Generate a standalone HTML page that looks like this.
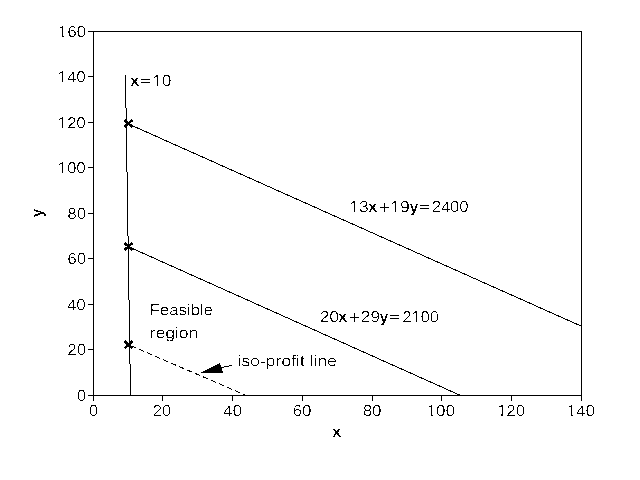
<!DOCTYPE html>
<html lang="en"><head><meta charset="utf-8"><title>Feasible region plot</title>
<style>
html,body{margin:0;padding:0;background:#fff;width:640px;height:480px;overflow:hidden}
svg{display:block}
text{font-family:"Liberation Sans",sans-serif;font-size:16px;fill:#000}
.b{font-weight:bold}
.ln{stroke:#000;stroke-width:1;fill:none;shape-rendering:crispEdges}
.bx{fill:#000;shape-rendering:crispEdges}
</style></head><body>
<svg width="640" height="480" viewBox="0 0 640 480">
<defs><filter id="th" filterUnits="userSpaceOnUse" x="0" y="0" width="640" height="480" color-interpolation-filters="sRGB"><feColorMatrix in="SourceGraphic" type="matrix" values="0 0 0 0 0  0 0 0 0 0  0 0 0 0 0  -1 0 0 0 1"/><feComponentTransfer><feFuncA type="discrete" tableValues="0 0 0 0 0 0 0 0 0 0 0 1 1 1 1 1 1 1 1 1"/></feComponentTransfer></filter></defs>
<rect x="0" y="0" width="640" height="480" fill="#fff"/>
<g filter="url(#th)">
<rect width="640" height="480" fill="#fff"/>
<g>
<text transform="matrix(1.0500 0.001 0 1 88.69 416.10)">0</text>
<text transform="matrix(1.0500 0.001 0 1 152.52 416.10)">20</text>
<text transform="matrix(1.0500 0.001 0 1 223.05 416.10)"><tspan dy="0.40">4</tspan><tspan dy="-0.40">0</tspan></text>
<text transform="matrix(1.0500 0.001 0 1 292.62 416.10)">60</text>
<text transform="matrix(1.0500 0.001 0 1 362.68 416.10)">80</text>
<text transform="matrix(1.0500 0.001 0 1 426.73 416.10)">100</text>
<text transform="matrix(1.0500 0.001 0 1 496.93 416.10)">120</text>
<text transform="matrix(1.0500 0.001 0 1 566.73 416.10)">1<tspan dy="0.40">4</tspan><tspan dy="-0.40">0</tspan></text>
<text transform="matrix(1.0500 0.001 0 1 76.67 401.10)">0</text>
<text transform="matrix(1.0500 0.001 0 1 67.33 355.10)">20</text>
<text transform="matrix(1.0500 0.001 0 1 66.93 310.10)"><tspan dy="0.40">4</tspan><tspan dy="-0.40">0</tspan></text>
<text transform="matrix(1.0500 0.001 0 1 67.33 264.10)">60</text>
<text transform="matrix(1.0500 0.001 0 1 67.33 219.10)">80</text>
<text transform="matrix(1.0500 0.001 0 1 57.59 173.20)">100</text>
<text transform="matrix(1.0500 0.001 0 1 57.59 128.20)">120</text>
<text transform="matrix(1.0500 0.001 0 1 57.59 82.20)">1<tspan dy="0.40">4</tspan><tspan dy="-0.40">0</tspan></text>
<text transform="matrix(1.0500 0.001 0 1 57.79 37.10)">160</text>
<text class="b" transform="matrix(1.0378 0.001 0 1 332.07 437.10)">x</text>
<text class="b" transform="matrix(1.0378 0.001 0 1 130.07 86.10)">x</text><text style="font-size:12px" transform="matrix(1.5437 0.001 0 1 139.96 85.05)">=</text><text transform="matrix(1.0782 0.001 0 1 152.25 86.10)">10</text>
<text transform="matrix(1.0835 0.001 0 1 349.34 212.10)">13</text><text class="b" transform="matrix(1.0378 0.001 0 1 368.07 212.10)">x</text><text style="font-size:18.8px" transform="matrix(1.0072 0.001 0 1 378.84 213.85)">+</text><text transform="matrix(1.0872 0.001 0 1 390.33 212.10)">19</text><text class="b" transform="matrix(0.9669 0.001 0 1 409.60 212.20)">y</text><text style="font-size:12px" transform="matrix(1.5437 0.001 0 1 418.96 211.05)">=</text><text transform="matrix(1.0303 0.001 0 1 431.73 212.00)">2<tspan dy="0.40">4</tspan><tspan dy="-0.40">0</tspan>0</text>
<text transform="matrix(1.0753 0.001 0 1 319.69 322.10)">20</text><text class="b" transform="matrix(1.0378 0.001 0 1 338.07 322.10)">x</text><text style="font-size:18.8px" transform="matrix(1.0072 0.001 0 1 348.84 323.85)">+</text><text transform="matrix(1.0841 0.001 0 1 360.49 322.10)">29</text><text class="b" transform="matrix(0.9669 0.001 0 1 379.60 322.20)">y</text><text style="font-size:12px" transform="matrix(1.5437 0.001 0 1 388.96 321.05)">=</text><text transform="matrix(1.0303 0.001 0 1 402.13 322.20)">2100</text>
<text transform="matrix(1.0453 0.001 0 1 149.59 315.20)">Feasible</text>
<text transform="matrix(1.0926 0.001 0 1 149.60 338.20)">region</text>
<text transform="matrix(1.0976 0.001 0 1 237.29 366.20)">iso-profit line</text>
<text class="b" transform="translate(43.2,213) rotate(-90) scale(0.92,1)" text-anchor="middle">y</text>
</g>
<g style="mix-blend-mode:lighten">
<rect width="640" height="480" fill="#fff"/>
<text transform="matrix(1.0500 0.001 0 1 88.97 416.10)">0</text>
<text transform="matrix(1.0500 0.001 0 1 152.80 416.10)">20</text>
<text transform="matrix(1.0500 0.001 0 1 223.33 416.10)"><tspan dy="0.40">4</tspan><tspan dy="-0.40">0</tspan></text>
<text transform="matrix(1.0500 0.001 0 1 292.90 416.10)">60</text>
<text transform="matrix(1.0500 0.001 0 1 362.96 416.10)">80</text>
<text transform="matrix(1.0500 0.001 0 1 427.01 416.10)">100</text>
<text transform="matrix(1.0500 0.001 0 1 497.21 416.10)">120</text>
<text transform="matrix(1.0500 0.001 0 1 567.01 416.10)">1<tspan dy="0.40">4</tspan><tspan dy="-0.40">0</tspan></text>
<text transform="matrix(1.0500 0.001 0 1 76.95 401.10)">0</text>
<text transform="matrix(1.0500 0.001 0 1 67.61 355.10)">20</text>
<text transform="matrix(1.0500 0.001 0 1 67.21 310.10)"><tspan dy="0.40">4</tspan><tspan dy="-0.40">0</tspan></text>
<text transform="matrix(1.0500 0.001 0 1 67.61 264.10)">60</text>
<text transform="matrix(1.0500 0.001 0 1 67.61 219.10)">80</text>
<text transform="matrix(1.0500 0.001 0 1 57.87 173.20)">100</text>
<text transform="matrix(1.0500 0.001 0 1 57.87 128.20)">120</text>
<text transform="matrix(1.0500 0.001 0 1 57.87 82.20)">1<tspan dy="0.40">4</tspan><tspan dy="-0.40">0</tspan></text>
<text transform="matrix(1.0500 0.001 0 1 58.07 37.10)">160</text>
<text class="b" transform="matrix(1.0378 0.001 0 1 332.31 437.10)">x</text>
<text class="b" transform="matrix(1.0378 0.001 0 1 130.31 86.10)">x</text><text style="font-size:12px" transform="matrix(1.5437 0.001 0 1 140.24 85.05)">=</text><text transform="matrix(1.0782 0.001 0 1 152.53 86.10)">10</text>
<text transform="matrix(1.0835 0.001 0 1 349.62 212.10)">13</text><text class="b" transform="matrix(1.0378 0.001 0 1 368.31 212.10)">x</text><text style="font-size:18.8px" transform="matrix(1.0072 0.001 0 1 379.12 213.85)">+</text><text transform="matrix(1.0872 0.001 0 1 390.61 212.10)">19</text><text class="b" transform="matrix(0.9669 0.001 0 1 409.76 212.20)">y</text><text style="font-size:12px" transform="matrix(1.5437 0.001 0 1 419.24 211.05)">=</text><text transform="matrix(1.0303 0.001 0 1 432.01 212.00)">2<tspan dy="0.40">4</tspan><tspan dy="-0.40">0</tspan>0</text>
<text transform="matrix(1.0753 0.001 0 1 319.97 322.10)">20</text><text class="b" transform="matrix(1.0378 0.001 0 1 338.31 322.10)">x</text><text style="font-size:18.8px" transform="matrix(1.0072 0.001 0 1 349.12 323.85)">+</text><text transform="matrix(1.0841 0.001 0 1 360.77 322.10)">29</text><text class="b" transform="matrix(0.9669 0.001 0 1 379.76 322.20)">y</text><text style="font-size:12px" transform="matrix(1.5437 0.001 0 1 389.24 321.05)">=</text><text transform="matrix(1.0303 0.001 0 1 402.41 322.20)">2100</text>
<text transform="matrix(1.0453 0.001 0 1 149.87 315.20)">Feasible</text>
<text transform="matrix(1.0926 0.001 0 1 149.88 338.20)">region</text>
<text transform="matrix(1.0976 0.001 0 1 237.57 366.20)">iso-profit line</text>
<text class="b" transform="translate(43.2,213) rotate(-90) scale(0.92,1)" text-anchor="middle">y</text>
</g>
<rect x="427.61" y="414.65" width="3.49" height="2.2" fill="#fff"/>
<rect x="432.59" y="414.65" width="3.32" height="2.2" fill="#fff"/>
<rect x="497.81" y="414.65" width="3.49" height="2.2" fill="#fff"/>
<rect x="502.79" y="414.65" width="3.32" height="2.2" fill="#fff"/>
<rect x="567.61" y="414.65" width="3.49" height="2.2" fill="#fff"/>
<rect x="572.59" y="414.65" width="3.32" height="2.2" fill="#fff"/>
<rect x="58.46" y="171.75" width="3.49" height="2.2" fill="#fff"/>
<rect x="63.44" y="171.75" width="3.32" height="2.2" fill="#fff"/>
<rect x="58.46" y="126.75" width="3.49" height="2.2" fill="#fff"/>
<rect x="63.44" y="126.75" width="3.32" height="2.2" fill="#fff"/>
<rect x="58.46" y="80.75" width="3.49" height="2.2" fill="#fff"/>
<rect x="63.44" y="80.75" width="3.32" height="2.2" fill="#fff"/>
<rect x="58.66" y="35.65" width="3.49" height="2.2" fill="#fff"/>
<rect x="63.64" y="35.65" width="3.32" height="2.2" fill="#fff"/>
<rect x="153.14" y="84.65" width="3.58" height="2.2" fill="#fff"/>
<rect x="158.25" y="84.65" width="3.41" height="2.2" fill="#fff"/>
<rect x="350.24" y="210.65" width="3.60" height="2.2" fill="#fff"/>
<rect x="355.37" y="210.65" width="3.42" height="2.2" fill="#fff"/>
<rect x="391.24" y="210.65" width="3.61" height="2.2" fill="#fff"/>
<rect x="396.39" y="210.65" width="3.44" height="2.2" fill="#fff"/>
<rect x="412.16" y="320.75" width="3.42" height="2.2" fill="#fff"/>
<rect x="417.04" y="320.75" width="3.26" height="2.2" fill="#fff"/>
</g>
<rect class="bx" x="93" y="31" width="489" height="1"/>
<rect class="bx" x="93" y="395" width="489" height="1"/>
<rect class="bx" x="93" y="31" width="1" height="365"/>
<rect class="bx" x="581" y="31" width="1" height="365"/>
<rect class="bx" x="93" y="395" width="1" height="6"/>
<rect class="bx" x="162" y="395" width="1" height="6"/>
<rect class="bx" x="232" y="395" width="1" height="6"/>
<rect class="bx" x="302" y="395" width="1" height="6"/>
<rect class="bx" x="372" y="395" width="1" height="6"/>
<rect class="bx" x="441" y="395" width="1" height="6"/>
<rect class="bx" x="511" y="395" width="1" height="6"/>
<rect class="bx" x="581" y="395" width="1" height="6"/>
<rect class="bx" x="88" y="395" width="6" height="1"/>
<rect class="bx" x="88" y="349" width="6" height="1"/>
<rect class="bx" x="88" y="304" width="6" height="1"/>
<rect class="bx" x="88" y="258" width="6" height="1"/>
<rect class="bx" x="88" y="213" width="6" height="1"/>
<rect class="bx" x="88" y="167" width="6" height="1"/>
<rect class="bx" x="88" y="122" width="6" height="1"/>
<rect class="bx" x="88" y="76" width="6" height="1"/>
<rect class="bx" x="88" y="31" width="6" height="1"/>
<line class="ln" x1="125.5" y1="75" x2="130.5" y2="395"/>
<line class="ln" x1="127.86" y1="123.70" x2="581" y2="326.05"/>
<line class="ln" x1="127.86" y1="246.45" x2="459.50" y2="395"/>
<line class="ln" x1="127.86" y1="344.5" x2="245.3" y2="395" stroke-dasharray="5.45 3.3" stroke-dashoffset="5.6"/>
<line x1="124.7" y1="119.9" x2="132.3" y2="127.1" stroke="#000" stroke-width="2.7" shape-rendering="crispEdges"/>
<line x1="124.7" y1="127.1" x2="132.3" y2="119.9" stroke="#000" stroke-width="2.7" shape-rendering="crispEdges"/>
<line x1="124.7" y1="242.9" x2="132.3" y2="250.1" stroke="#000" stroke-width="2.7" shape-rendering="crispEdges"/>
<line x1="124.7" y1="250.1" x2="132.3" y2="242.9" stroke="#000" stroke-width="2.7" shape-rendering="crispEdges"/>
<line x1="124.7" y1="341.1" x2="132.3" y2="348.3" stroke="#000" stroke-width="2.7" shape-rendering="crispEdges"/>
<line x1="124.7" y1="348.3" x2="132.3" y2="341.1" stroke="#000" stroke-width="2.7" shape-rendering="crispEdges"/>
<polygon points="200.5,373 219.8,363 223.2,373" fill="#000" shape-rendering="crispEdges"/>
<line class="ln" x1="221" y1="367.5" x2="232" y2="365.5"/>
</svg>
</body></html>
